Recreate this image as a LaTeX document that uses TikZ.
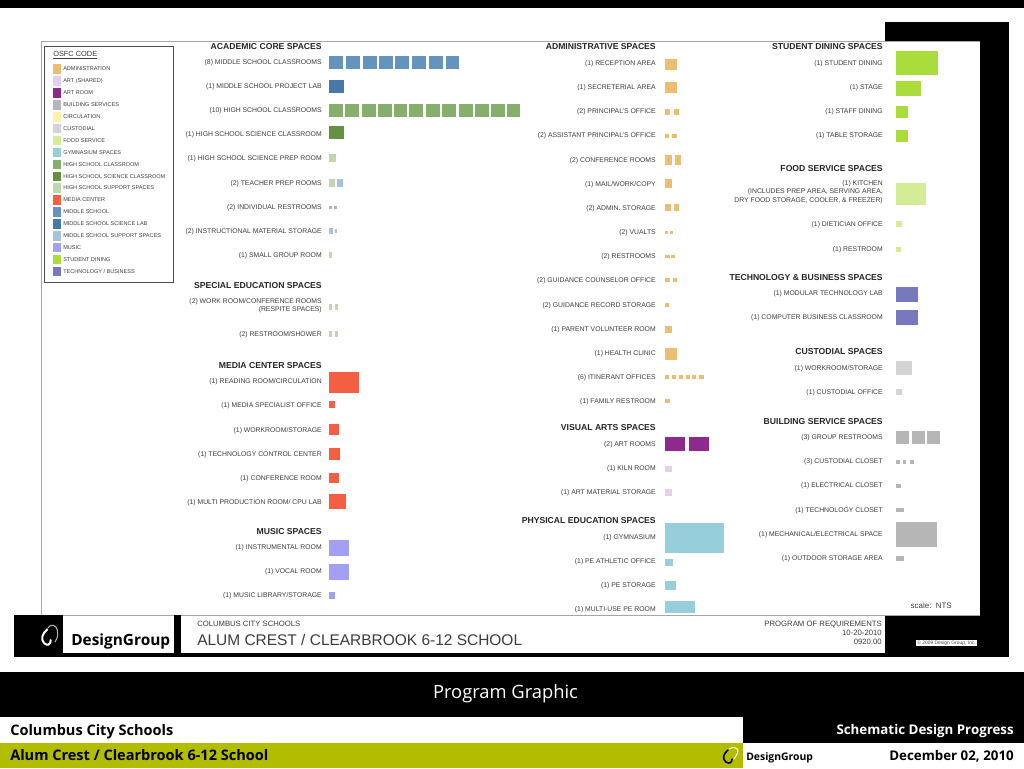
\documentclass[tikz,border=0pt]{standalone}
\usepackage{fontspec}
\setmainfont{Liberation Sans}
\newfontfamily\slidefont{Open Sans}
\definecolor{labelgray}{RGB}{60,60,60}
\definecolor{admincol}{RGB}{236,190,115}
\definecolor{artshared}{RGB}{232,205,238}
\definecolor{artroom}{RGB}{142,42,142}
\definecolor{buildcol}{RGB}{182,182,182}
\definecolor{circcol}{RGB}{255,240,170}
\definecolor{custcol}{RGB}{212,212,212}
\definecolor{foodcol}{RGB}{212,236,150}
\definecolor{gymcol}{RGB}{150,206,220}
\definecolor{hsclass}{RGB}{134,174,108}
\definecolor{hsscience}{RGB}{100,146,66}
\definecolor{hssupport}{RGB}{192,214,172}
\definecolor{mediacol}{RGB}{245,95,65}
\definecolor{msclass}{RGB}{100,148,190}
\definecolor{msscience}{RGB}{70,120,168}
\definecolor{mssupport}{RGB}{168,194,220}
\definecolor{musiccol}{RGB}{160,160,245}
\definecolor{diningcol}{RGB}{170,220,60}
\definecolor{techcol}{RGB}{120,120,190}
\definecolor{slidegreen}{RGB}{178,188,0}
\tikzset{%
  labelbase/.style = {anchor=east, inner sep=0pt, text=labelgray,%
                      font=\fontsize{5.13pt}{6.3pt}\selectfont},%
  roomlabel/.style = {labelbase, text height=3.67pt, text depth=0pt},%
  roomnote/.style  = {labelbase, align=right},%
  heading/.style   = {labelbase, text height=4.63pt, text depth=0pt, text=black!85,%
                      font=\bfseries\fontsize{6.47pt}{7pt}\selectfont},%
  keylabel/.style  = {anchor=west, inner sep=0pt, text height=3pt, text depth=0pt,%
                      text=labelgray, font=\fontsize{4.16pt}{5pt}\selectfont},%
  sheettext/.style = {inner sep=0pt, text depth=0pt, text=labelgray},%
  slidetext/.style = {inner sep=0pt, text height=7.7pt, text depth=0pt,%
                      font=\slidefont\bfseries\fontsize{10.9pt}{12pt}\selectfont},%
  slideright/.style = {slidetext, anchor=east, text height=7.2pt,%
                      font=\slidefont\bfseries\fontsize{10pt}{12pt}\selectfont}%
}
\begin{document}
\begin{tikzpicture}[x=.75pt,y=-.75pt]
  \useasboundingbox (0,0) rectangle (1024,768);
  \fill[white] (0,0) rectangle (1024,768);
  % -------------- SHEET FRAME --------------------------------------
  \fill[black] (0,0) rectangle (1024,8);
  \fill[black] (885,22) rectangle (1009,657);
  \fill[white] (41,41) rectangle (980,615);
  \draw[black!35,line width=.6pt] (980,41.5) -- (41.5,41.5) -- (41.5,615);
  \draw[black!35,line width=.6pt] (14,615.5) -- (980,615.5);
  \fill[black] (14,615) rectangle (63,657);
  \fill[black] (63,653) rectangle (885,657);
  \fill[black] (174,615) rectangle (181,657);
  % -------------- OSFC CODE --------------------------------------
  \draw[black!70,line width=.7pt] (44,46) rectangle (173,282.5);
  \node (keyTitle) [sheettext, anchor=west, text height=4pt, font=\fontsize{5.55pt}{6pt}\selectfont] at (53,54) {\underline{OSFC CODE}};
  \fill[admincol] (52.5,64) rectangle (61,73.5);
  \fill[artshared] (52.5,76) rectangle (61,85.5);
  \fill[artroom] (52.5,88) rectangle (61,97.5);
  \fill[buildcol] (52.5,100) rectangle (61,109.5);
  \fill[circcol] (52.5,112) rectangle (61,121.5);
  \fill[custcol] (52.5,123.5) rectangle (61,133);
  \fill[foodcol] (52.5,135.5) rectangle (61,145);
  \fill[gymcol] (52.5,147.5) rectangle (61,157);
  \fill[hsclass] (52.5,159.5) rectangle (61,169);
  \fill[hsscience] (52.5,171.5) rectangle (61,181);
  \fill[hssupport] (52.5,183) rectangle (61,192.5);
  \fill[mediacol] (52.5,195) rectangle (61,204.5);
  \fill[msclass] (52.5,207) rectangle (61,216.5);
  \fill[msscience] (52.5,219) rectangle (61,228.5);
  \fill[mssupport] (52.5,231) rectangle (61,240.5);
  \fill[musiccol] (52.5,242.5) rectangle (61,252);
  \fill[diningcol] (52.5,254.5) rectangle (61,264);
  \fill[techcol] (52.5,266.5) rectangle (61,276);
  \node (keyAdmin) [keylabel] at (63,68.7) {ADMINISTRATION};
  \node (keyShared) [keylabel] at (63,80.6) {ART (SHARED)};
  \node (keyArt) [keylabel] at (63,92.5) {ART ROOM};
  \node (keyBuild) [keylabel] at (63,104.5) {BUILDING SERVICES};
  \node (keyCirc) [keylabel] at (63,116.5) {CIRCULATION};
  \node (keyCust) [keylabel] at (63,128.3) {CUSTODIAL};
  \node (keyFood) [keylabel] at (63,140.2) {FOOD SERVICE};
  \node (keyGym) [keylabel] at (63,152) {GYMNASIUM SPACES};
  \node (keyHs) [keylabel] at (63,164) {HIGH SCHOOL CLASSROOM};
  \node (keyHsSci) [keylabel] at (63,176) {HIGH SCHOOL SCIENCE CLASSROOM};
  \node (keyHsSup) [keylabel] at (63,187.8) {HIGH SCHOOL SUPPORT SPACES};
  \node (keyMedia) [keylabel] at (63,199.7) {MEDIA CENTER};
  \node (keyMs) [keylabel] at (63,211.5) {MIDDLE SCHOOL};
  \node (keyMsSci) [keylabel] at (63,223.5) {MIDDLE SCHOOL SCIENCE LAB};
  \node (keyMsSup) [keylabel] at (63,235.5) {MIDDLE SCHOOL SUPPORT SPACES};
  \node (keyMusic) [keylabel] at (63,247.2) {MUSIC};
  \node (keyDining) [keylabel] at (63,259) {STUDENT DINING};
  \node (keyTech) [keylabel] at (63,271) {TECHNOLOGY / BUSINESS};
  % -------------- FIRST COLUMN --------------------------------------
  \node (acadHead) [heading] at (322,46) {ACADEMIC CORE SPACES};
  \node (msRooms) [roomlabel] at (322,62) {(8) MIDDLE SCHOOL CLASSROOMS};
  \node (msLab) [roomlabel] at (322,86) {(1) MIDDLE SCHOOL PROJECT LAB};
  \node (hsRooms) [roomlabel] at (322,110) {(10) HIGH SCHOOL CLASSROOMS};
  \node (hsSci) [roomlabel] at (322,134.5) {(1) HIGH SCHOOL SCIENCE CLASSROOM};
  \node (hsPrep) [roomlabel] at (322,158.5) {(1) HIGH SCHOOL SCIENCE PREP ROOM};
  \node (teachPrep) [roomlabel] at (322,183) {(2) TEACHER PREP ROOMS};
  \node (indRest) [roomlabel] at (322,207) {(2) INDIVIDUAL RESTROOMS};
  \node (instrStore) [roomlabel] at (322,231) {(2) INSTRUCTIONAL MATERIAL STORAGE};
  \node (smallGroup) [roomlabel] at (322,255.5) {(1) SMALL GROUP ROOM};
  \fill[msclass] (328.7,55.7) rectangle (342.7,69.3);
  \fill[msclass] (346,55.7) rectangle (359.7,69.3);
  \fill[msclass] (362.7,55.7) rectangle (376.7,69.3);
  \fill[msclass] (379.3,55.7) rectangle (393,69.3);
  \fill[msclass] (395.3,55.7) rectangle (409.3,69.3);
  \fill[msclass] (412.3,55.7) rectangle (426.3,69.3);
  \fill[msclass] (429.3,55.7) rectangle (443,69.3);
  \fill[msclass] (445.7,55.7) rectangle (459.3,69.3);
  \fill[msscience] (328.7,79.7) rectangle (344,93.3);
  \fill[hsclass] (328.7,103.7) rectangle (342.7,116.7);
  \fill[hsclass] (345.3,103.7) rectangle (359.3,116.7);
  \fill[hsclass] (362,103.7) rectangle (376,116.7);
  \fill[hsclass] (378,103.7) rectangle (391.7,116.7);
  \fill[hsclass] (393.7,103.7) rectangle (407.3,116.7);
  \fill[hsclass] (409.3,103.7) rectangle (423.3,116.7);
  \fill[hsclass] (426,103.7) rectangle (440,116.7);
  \fill[hsclass] (442.3,103.7) rectangle (456.3,116.7);
  \fill[hsclass] (459,103.7) rectangle (473,116.7);
  \fill[hsclass] (475,103.7) rectangle (488.7,116.7);
  \fill[hsclass] (490.7,103.7) rectangle (504.7,116.7);
  \fill[hsclass] (506.7,103.7) rectangle (520.3,116.7);
  \fill[hsscience] (328.7,126) rectangle (343.7,139.3);
  \fill[hssupport] (329,153.7) rectangle (335.7,162.3);
  \fill[hssupport] (329,179.3) rectangle (335,187.3);
  \fill[mssupport] (337.3,179.3) rectangle (343,187.3);
  \fill[black!30] (329,205.7) rectangle (331.7,209);
  \fill[black!30] (334.3,205.7) rectangle (337,209);
  \fill[mssupport] (329,227.7) rectangle (333,233.7);
  \fill[mssupport] (334.7,229) rectangle (336.7,232.7);
  \fill[hssupport] (329,252) rectangle (332.3,258);
  \node (specHead) [heading] at (322,285.5) {SPECIAL EDUCATION SPACES};
  \node (workConf) [roomnote] at (322,306) {(2) WORK ROOM/CONFERENCE ROOMS\\(RESPITE SPACES)};
  \node (restShower) [roomlabel] at (322,334) {(2) RESTROOM/SHOWER};
  \fill[hssupport] (329,304.3) rectangle (332,310.3);
  \fill[hssupport] (335,304.3) rectangle (338,310.3);
  \fill[hssupport] (329,331.3) rectangle (332,336.7);
  \fill[hssupport] (335,331.3) rectangle (338,336.7);
  \node (mediaHead) [heading] at (322,365) {MEDIA CENTER SPACES};
  \node (reading) [roomlabel] at (322,381.5) {(1) READING ROOM/CIRCULATION};
  \node (mediaOffice) [roomlabel] at (322,405.5) {(1) MEDIA SPECIALIST OFFICE};
  \node (mediaWork) [roomlabel] at (322,430) {(1) WORKROOM/STORAGE};
  \node (techControl) [roomlabel] at (322,454) {(1) TECHNOLOGY CONTROL CENTER};
  \node (mediaConf) [roomlabel] at (322,478.5) {(1) CONFERENCE ROOM};
  \node (multiProd) [roomlabel] at (322,502.5) {(1) MULTI PRODUCTION ROOM/ CPU LAB};
  \fill[mediacol] (329,372.3) rectangle (359.3,392.7);
  \fill[mediacol] (329,401.3) rectangle (335.3,408.3);
  \fill[mediacol] (329,424.3) rectangle (338.7,434.7);
  \fill[mediacol] (329,448) rectangle (340.3,460);
  \fill[mediacol] (329,472.7) rectangle (338.7,483);
  \fill[mediacol] (329,494) rectangle (345.7,509);
  \node (musicHead) [heading] at (322,531) {MUSIC SPACES};
  \node (instrRoom) [roomlabel] at (322,547.5) {(1) INSTRUMENTAL ROOM};
  \node (vocalRoom) [roomlabel] at (322,571.5) {(1) VOCAL ROOM};
  \node (musicLib) [roomlabel] at (322,595.5) {(1) MUSIC LIBRARY/STORAGE};
  \fill[musiccol] (329,540.3) rectangle (349,556);
  \fill[musiccol] (329,564) rectangle (349,579.7);
  \fill[musiccol] (329,591.7) rectangle (335,599);
  % -------------- SECOND COLUMN --------------------------------------
  \node (adminHead) [heading] at (656,46.5) {ADMINISTRATIVE SPACES};
  \node (reception) [roomlabel] at (656,63) {(1) RECEPTION AREA};
  \node (secret) [roomlabel] at (656,87.5) {(1) SECRETERIAL AREA};
  \node (principal) [roomlabel] at (656,111.5) {(2) PRINCIPAL'S OFFICE};
  \node (asstPrincipal) [roomlabel] at (656,135.5) {(2) ASSISTANT PRINCIPAL'S OFFICE};
  \node (adminConf) [roomlabel] at (656,160) {(2) CONFERENCE ROOMS};
  \node (mailWork) [roomlabel] at (656,184) {(1) MAIL/WORK/COPY};
  \node (adminStore) [roomlabel] at (656,208) {(2) ADMIN. STORAGE};
  \node (vaults) [roomlabel] at (656,232.5) {(2) VUALTS};
  \node (adminRest) [roomlabel] at (656,256.5) {(2) RESTROOMS};
  \node (guidance) [roomlabel] at (656,280.5) {(2) GUIDANCE COUNSELOR OFFICE};
  \node (guidStore) [roomlabel] at (656,305) {(2) GUIDANCE RECORD STORAGE};
  \node (parent) [roomlabel] at (656,329) {(1) PARENT VOLUNTEER ROOM};
  \node (clinic) [roomlabel] at (656,353) {(1) HEALTH CLINIC};
  \node (itinerant) [roomlabel] at (656,377.5) {(6) ITINERANT OFFICES};
  \node (famRest) [roomlabel] at (656,401.5) {(1) FAMILY RESTROOM};
  \fill[admincol] (665.3,58.7) rectangle (677,69.7);
  \fill[admincol] (665.3,82.3) rectangle (677,93.3);
  \fill[admincol] (665.3,109) rectangle (670.3,115.3);
  \fill[admincol] (673.7,109) rectangle (679,115.3);
  \fill[admincol] (665.3,133.7) rectangle (669,138);
  \fill[admincol] (671.7,133.7) rectangle (677,138);
  \fill[admincol] (665.3,155) rectangle (672,164.7);
  \fill[admincol] (674.7,155) rectangle (681.3,164.7);
  \fill[admincol] (665.3,179) rectangle (672.3,187.7);
  \fill[admincol] (665.3,204.3) rectangle (670.7,210.7);
  \fill[admincol] (673.7,204.3) rectangle (679,210.7);
  \fill[admincol] (665.3,230.7) rectangle (668.3,234.3);
  \fill[admincol] (670.3,230.7) rectangle (673.3,234.3);
  \fill[admincol] (665.3,255) rectangle (669.7,258.3);
  \fill[admincol] (670.7,255) rectangle (675,258.3);
  \fill[admincol] (665.3,278) rectangle (669.7,282.3);
  \fill[admincol] (672.7,278) rectangle (677,282.3);
  \fill[admincol] (665.3,303) rectangle (669,306.7);
  \fill[admincol] (665.3,325.7) rectangle (671.7,332.7);
  \fill[admincol] (665.3,348) rectangle (676.7,359.7);
  \fill[admincol] (665.3,374.7) rectangle (669.3,379.3);
  \fill[admincol] (672,374.7) rectangle (676,379.3);
  \fill[admincol] (678.7,374.7) rectangle (682.7,379.3);
  \fill[admincol] (685.7,374.7) rectangle (689.7,379.3);
  \fill[admincol] (692.3,374.7) rectangle (696.3,379.3);
  \fill[admincol] (699,374.7) rectangle (703.7,379.3);
  \fill[admincol] (665.3,399) rectangle (670,403.3);
  \node (artsHead) [heading] at (656,427.5) {VISUAL ARTS SPACES};
  \node (artRooms) [roomlabel] at (656,444) {(2) ART ROOMS};
  \node (kiln) [roomlabel] at (656,468) {(1) KILN ROOM};
  \node (artStore) [roomlabel] at (656,492.5) {(1) ART MATERIAL STORAGE};
  \fill[artroom] (665.3,437.3) rectangle (685.3,451.3);
  \fill[artroom] (688.7,437.3) rectangle (708.7,451.3);
  \fill[artshared] (665.3,465.7) rectangle (671.7,472);
  \fill[artshared] (665.3,489.3) rectangle (671.7,495.7);
  \node (peHead) [heading] at (656,520.5) {PHYSICAL EDUCATION SPACES};
  \node (gym) [roomlabel] at (656,537) {(1) GYMNASIUM};
  \node (peOffice) [roomlabel] at (656,561) {(1) PE ATHLETIC OFFICE};
  \node (peStore) [roomlabel] at (656,585.5) {(1) PE STORAGE};
  \node (peRoom) [roomlabel] at (656,609.5) {(1) MULTI-USE PE ROOM};
  \fill[gymcol] (665.3,523.3) rectangle (724,552.7);
  \fill[gymcol] (665.3,558.7) rectangle (673.3,566);
  \fill[gymcol] (665.3,581.3) rectangle (676.3,590.3);
  \fill[gymcol] (665.3,600.7) rectangle (694.7,613.3);
  % -------------- THIRD COLUMN --------------------------------------
  \node (diningHead) [heading] at (883,46.5) {STUDENT DINING SPACES};
  \node (dining) [roomlabel] at (883,63) {(1) STUDENT DINING};
  \node (stage) [roomlabel] at (883,87.5) {(1) STAGE};
  \node (staffDining) [roomlabel] at (883,111.5) {(1) STAFF DINING};
  \node (tableStore) [roomlabel] at (883,135.5) {(1) TABLE STORAGE};
  \fill[diningcol] (896,51) rectangle (938,75.3);
  \fill[diningcol] (896,81) rectangle (921.3,96);
  \fill[diningcol] (896,105.7) rectangle (908.3,117.7);
  \fill[diningcol] (896,130) rectangle (908.3,142);
  \node (foodHead) [heading] at (883,168) {FOOD SERVICE SPACES};
  \node (kitchen) [roomnote] at (883,192) {(1) KITCHEN\\(INCLUDES PREP AREA, SERVING AREA,\\DRY FOOD STORAGE, COOLER, \& FREEZER)};
  \node (dietician) [roomlabel] at (883,224.5) {(1) DIETICIAN OFFICE};
  \node (foodRest) [roomlabel] at (883,249) {(1) RESTROOM};
  \fill[foodcol] (896,182.7) rectangle (925.7,204.7);
  \fill[foodcol] (896,221.3) rectangle (902.3,227.3);
  \fill[foodcol] (896.3,246.7) rectangle (900.7,252);
  \node (techHead) [heading] at (883,277) {TECHNOLOGY \& BUSINESS SPACES};
  \node (modLab) [roomlabel] at (883,293.5) {(1) MODULAR TECHNOLOGY LAB};
  \node (compRoom) [roomlabel] at (883,317.5) {(1) COMPUTER BUSINESS CLASSROOM};
  \fill[techcol] (896.3,287.3) rectangle (918,302.3);
  \fill[techcol] (896.3,310.3) rectangle (918,325.3);
  \node (custHead) [heading] at (883,351) {CUSTODIAL SPACES};
  \node (custWork) [roomlabel] at (883,368) {(1) WORKROOM/STORAGE};
  \node (custOffice) [roomlabel] at (883,392) {(1) CUSTODIAL OFFICE};
  \fill[custcol] (896.3,361) rectangle (912,374.7);
  \fill[custcol] (896.3,388.7) rectangle (902.3,394.7);
  \node (buildHead) [heading] at (883,421) {BUILDING SERVICE SPACES};
  \node (groupRest) [roomlabel] at (883,437.5) {(3) GROUP RESTROOMS};
  \node (custCloset) [roomlabel] at (883,461.5) {(3) CUSTODIAL CLOSET};
  \node (elecCloset) [roomlabel] at (883,485.5) {(1) ELECTRICAL CLOSET};
  \node (techCloset) [roomlabel] at (883,510) {(1) TECHNOLOGY CLOSET};
  \node (mechSpace) [roomlabel] at (883,534) {(1) MECHANICAL/ELECTRICAL SPACE};
  \node (outdoorStore) [roomlabel] at (883,558) {(1) OUTDOOR STORAGE AREA};
  \fill[buildcol] (896.3,431) rectangle (909.3,443.7);
  \fill[buildcol] (912,431) rectangle (925,443.7);
  \fill[buildcol] (927.3,431) rectangle (940,443.7);
  \fill[buildcol] (896.3,459.7) rectangle (900,464);
  \fill[buildcol] (902.7,459.7) rectangle (906,464);
  \fill[buildcol] (910.3,459.7) rectangle (914,464);
  \fill[buildcol] (896.3,483.7) rectangle (901,487.7);
  \fill[buildcol] (896.3,507.7) rectangle (904,512);
  \fill[buildcol] (896.3,521.7) rectangle (936.7,546.7);
  \fill[buildcol] (896.3,556.3) rectangle (904,560.7);
  \node (scaleNote) [sheettext, anchor=east, text height=4.2pt, font=\fontsize{5.95pt}{7pt}\selectfont] at (952,605.5) {scale:\ \ NTS};
  % -------------- TITLE BLOCK --------------------------------------
  \draw[white,line width=1.5pt,line cap=round] (47.3,629.3) .. controls (42,634) and (40.5,639) .. (44,643) .. controls (47,646) and (51,645) .. (50.7,640);
  \draw[black!30,line width=.8pt,line cap=round] (48,628) .. controls (50,624) and (56,624) .. (57.3,630) .. controls (58,634) and (58,638) .. (55,641.7);
  \node (groupName) [sheettext, anchor=west, text=black, text height=8.3pt, font=\slidefont\bfseries\fontsize{11.55pt}{14pt}\selectfont] at (71,639.5) {DesignGroup};
  \node (clientName) [sheettext, anchor=west, text height=4.15pt, font=\fontsize{5.77pt}{7pt}\selectfont] at (197,624) {COLUMBUS CITY SCHOOLS};
  \node (schoolName) [sheettext, anchor=west, text height=8.3pt, font=\fontsize{11.6pt}{13pt}\selectfont] at (197,640) {ALUM CREST / CLEARBROOK 6-12 SCHOOL};
  \node (reqTitle) [sheettext, anchor=east, text height=4.15pt, font=\fontsize{5.8pt}{7pt}\selectfont] at (882,624) {PROGRAM OF REQUIREMENTS};
  \node (reqDate) [sheettext, anchor=east, text height=4.15pt, font=\fontsize{5.8pt}{7pt}\selectfont] at (882,633) {10-20-2010};
  \node (reqNumber) [sheettext, anchor=east, text height=4.15pt, font=\fontsize{5.8pt}{7pt}\selectfont] at (882,642) {0920.00};
  \node (copyNote) [fill=white, inner sep=.6pt, text=black!70, font=\fontsize{3.7pt}{4pt}\selectfont] at (946.5,643) {© 2009 Design Group, Inc.};
  % -------------- SLIDE BANDS --------------------------------------
  \fill[black] (0,671.5) rectangle (1024,717);
  \fill[black] (742.5,717) rectangle (1024,742.5);
  \fill[slidegreen] (0,742.5) rectangle (742.5,768);
  \node (slideTitle) [inner sep=0pt, text height=9.8pt, text depth=0pt, text=white, font=\slidefont\fontsize{13.75pt}{16pt}\selectfont] at (505.5,691.5) {Program Graphic};
  \node (clientLine) [slidetext, anchor=west] at (10,730) {Columbus City Schools};
  \node (schoolLine) [slidetext, anchor=west] at (10,755) {Alum Crest / Clearbrook 6-12 School};
  \node (phaseLine) [slideright, text=white] at (1014,730) {Schematic Design Progress};
  \node (dateLine) [slideright] at (1014,756) {December 02, 2010};
  \draw[black,line width=1.2pt,line cap=round] (728,750) .. controls (723,754) and (722,759) .. (726,762) .. controls (729,764) and (732,763) .. (732,759);
  \draw[white,line width=.7pt,line cap=round] (729,749) .. controls (733,746) and (739,748) .. (738,752) .. controls (737,755) and (735,757) .. (734,759);
  \node (groupMark) [slidetext, anchor=west, text height=5.6pt, font=\slidefont\bfseries\fontsize{7.8pt}{10pt}\selectfont] at (746,757) {DesignGroup};
\end{tikzpicture}
\end{document}
